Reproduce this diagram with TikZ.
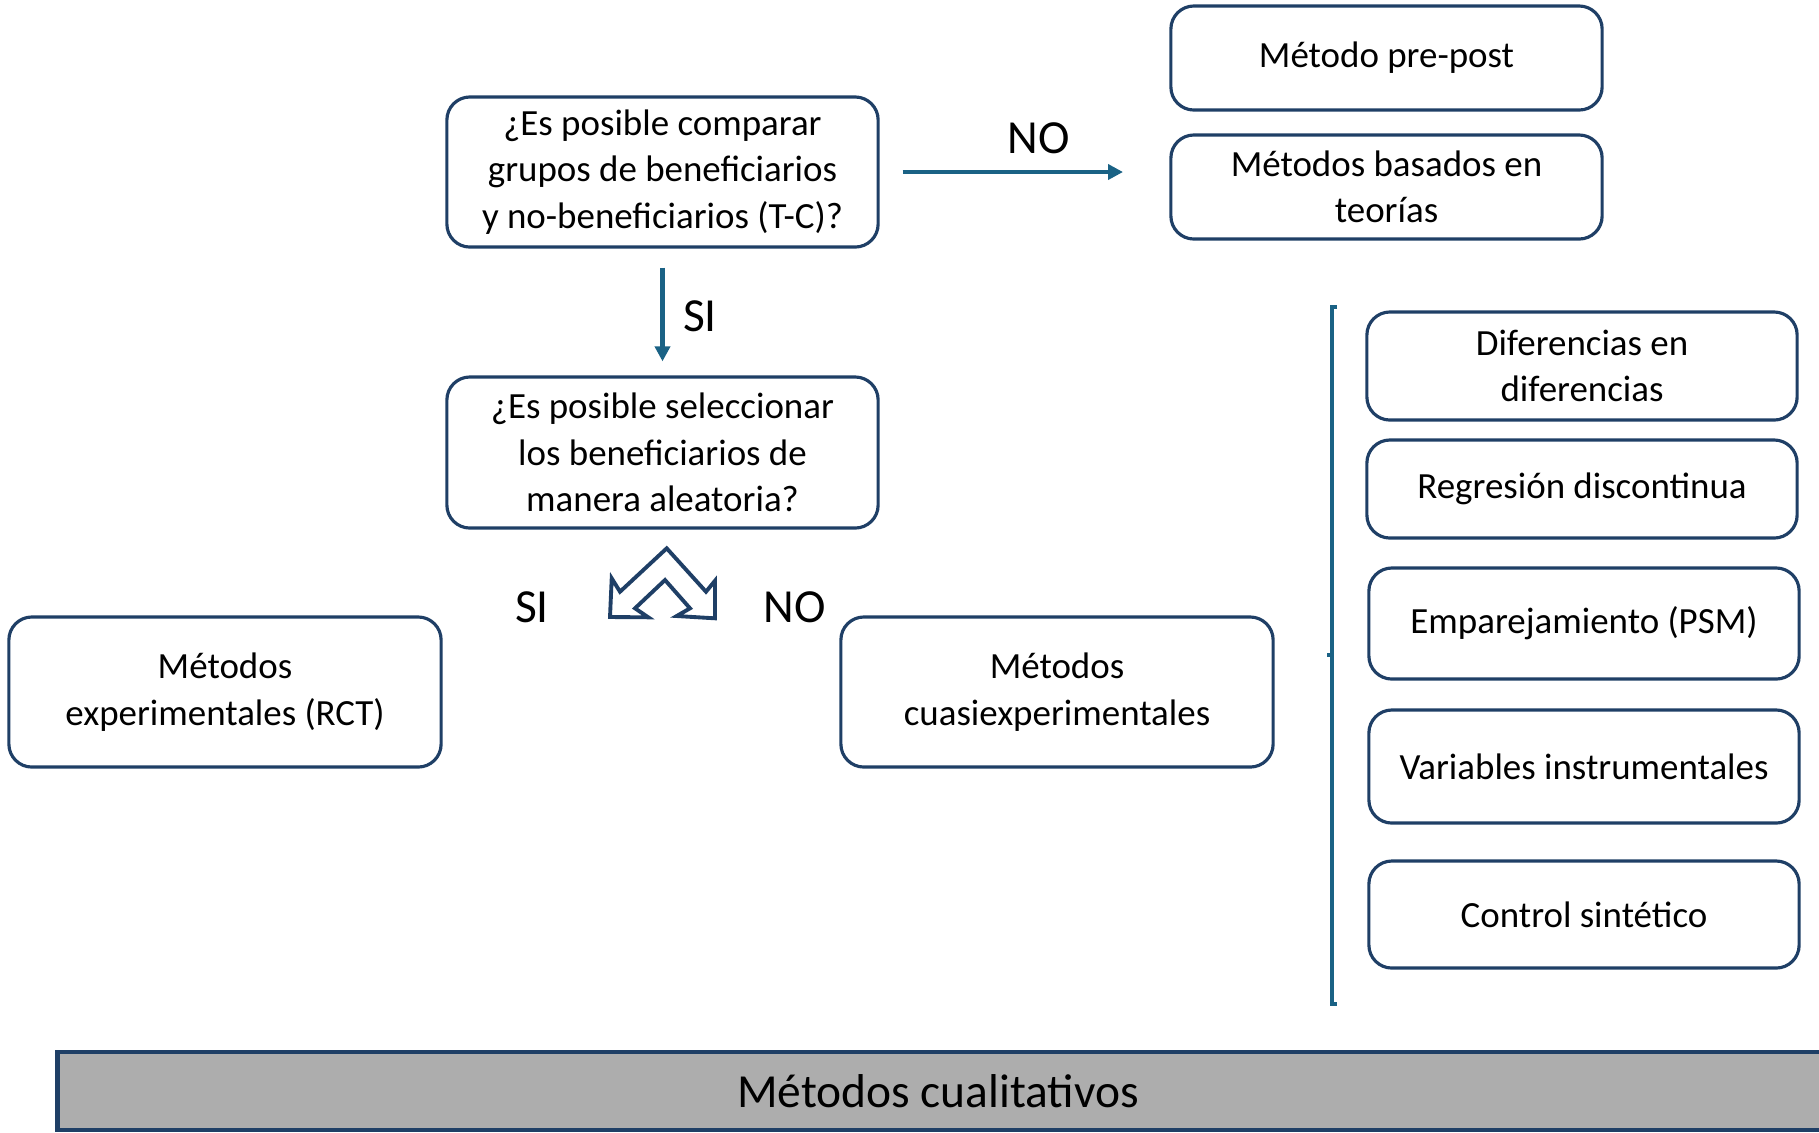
\documentclass[tikz,border=0pt]{standalone}
\usepackage{fontspec}
\setmainfont{Carlito}
\usepackage{tikz}
\usetikzlibrary{arrows.meta}
\definecolor{boxblue}{HTML}{1F3F66}
\definecolor{arrowblue}{HTML}{1A6285}
\definecolor{qualgray}{HTML}{ADADAD}
\tikzset{>={Triangle[length=0.15cm,width=0.15cm]}}
\tikzset{
  method/.style={draw=boxblue, line width=0.9pt, rounded corners=0.23cm,
    align=center, font=\fontsize{10.5}{13.2}\selectfont, inner sep=0pt},
  flow/.style={->, draw=arrowblue, line width=1.3pt},
  answer/.style={font=\fontsize{13.5}{16}\selectfont},
}

\begin{document}
\begin{tikzpicture}[x=0.01cm,y=-0.01cm]
  \useasboundingbox (0,0) rectangle (1819,1132);

  % Nodes
  \node[method, minimum width=4.31cm, minimum height=1.50cm] (q1) at (662.5,172)
    {¿Es posible comparar\\grupos de beneficiarios\\y no-beneficiarios (T-C)?};
  \node[method, minimum width=4.31cm, minimum height=1.51cm] (q2) at (662.5,452.5)
    {¿Es posible seleccionar\\los beneficiarios de\\manera aleatoria?};
  \node[method, minimum width=4.31cm, minimum height=1.04cm] (prepost) at (1386.5,58)
    {Método pre-post};
  \node[method, minimum width=4.31cm, minimum height=1.04cm] (teorias) at (1386.5,187)
    {Métodos basados en\\teorías};
  \node[method, minimum width=4.32cm, minimum height=1.50cm] (rct) at (225,692)
    {Métodos\\experimentales (RCT)};
  \node[method, minimum width=4.32cm, minimum height=1.50cm] (cuasi) at (1057,692)
    {Métodos\\cuasiexperimentales};
  \node[method, minimum width=4.30cm, minimum height=1.08cm] (did) at (1582,366)
    {Diferencias en\\diferencias};
  \node[method, minimum width=4.30cm, minimum height=0.98cm] (rd) at (1582,489)
    {Regresión discontinua};
  \node[method, minimum width=4.30cm, minimum height=1.11cm] (psm) at (1584,623.5)
    {Emparejamiento (PSM)};
  \node[method, minimum width=4.30cm, minimum height=1.13cm] (iv) at (1584,766.5)
    {Variables instrumentales};
  \node[method, minimum width=4.30cm, minimum height=1.07cm] (sc) at (1584,914.5)
    {Control sintético};
  \node[draw=boxblue, line width=1.3pt, fill=qualgray, minimum width=17.80cm,
    minimum height=0.78cm, inner sep=0pt] (qual) at (948,1091) {};
  \node[answer] (quallabel) at (938,1091) {Métodos cualitativos};

  % Labels
  \node[answer] (no1) at (1039,138) {NO};
  \node[answer] (si1) at (700,316) {SI};
  \node[answer] (si2) at (532,607) {SI};
  \node[answer] (no2) at (795,607) {NO};

  % Edges
  \coordinate (noend) at (1123,172);
  \draw[flow] ([xshift=0.23cm]q1.east) -- (noend);
  \draw[flow] ([yshift=-0.19cm]q1.south) -- ([yshift=0.14cm]q2.north);

  % Split arrow
  \draw[draw=boxblue, line width=1.1pt, fill=white, line join=miter]
    (666.7,548.3) -- (706,591.7) -- (715,580.7) -- (715,618.3) -- (676.7,616)
    -- (690,608.3) -- (665,580) -- (635,608.3) -- (648.3,617.3) -- (610,617)
    -- (611.7,578.3) -- (620,591.7) -- cycle;

  % Bracket
  \draw[arrowblue, line width=1.1pt]
    (1337,307) -- (1332,307) -- (1332,1004) -- (1337,1004);
  \draw[arrowblue, line width=1.1pt] (1332,655) -- (1327,655);

\end{tikzpicture}
\end{document}
